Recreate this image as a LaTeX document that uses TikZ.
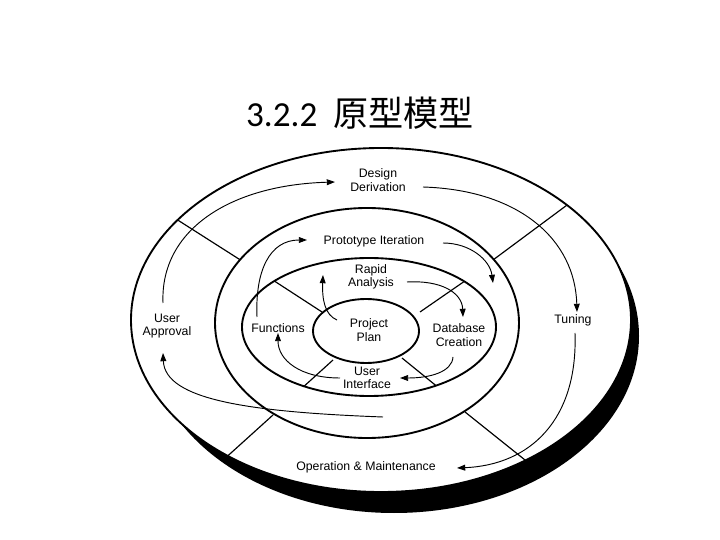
\documentclass[tikz,border=0pt]{standalone}
\usepackage{fontspec}
\setmainfont{Liberation Sans}
\newfontfamily\titlefont{Carlito}
\newfontfamily\cjk{Noto Sans CJK SC}
\usetikzlibrary{arrows.meta}
\begin{document}
\begin{tikzpicture}[x=0.03cm,y=-0.03cm,
  lbl/.style={font=\fontsize{10.5}{11.5}\selectfont,align=center,inner sep=1pt},
  ring/.style={line width=1.6pt},
  div/.style={line width=1pt},
  arr/.style={line width=0.8pt,-{Triangle[length=7pt,width=5pt]}}]
\useasboundingbox (0,0) rectangle (720,540);
\fill[white] (0,0) rectangle (720,540);
\node[font=\fontsize{30}{34}\selectfont] (title) at (360,113) {\titlefont 3.2.2\ \ \cjk 原型模型};
% shadow
\fill[black] (394,336) ellipse [x radius=245, y radius=177];
\fill[white] (381,320) ellipse [x radius=250, y radius=172];
% outer dividers
\begin{scope}
\clip (381,320) ellipse [x radius=250, y radius=172];
\draw[div] (140,196) -- (242,261);
\draw[div] (590,188) -- (493,260);
\draw[div] (190,490) -- (273,415);
\draw[div] (560,488) -- (465,412);
\end{scope}
\fill[white] (367,323) ellipse [x radius=152, y radius=115];
\begin{scope}
\clip (369,327) ellipse [x radius=127, y radius=69];
\draw[div] (262,273) -- (322,312);
\draw[div] (475,274) -- (420,312);
\draw[div] (290,399) -- (333,360);
\draw[div] (450,397) -- (402,358);
\end{scope}
\fill[white] (366,331) ellipse [x radius=53, y radius=32];
% rings
\draw[ring] (381,320) ellipse [x radius=250, y radius=172];
\draw[ring] (367,323) ellipse [x radius=152, y radius=115];
\draw[ring] (369,327) ellipse [x radius=127, y radius=69];
\draw[ring] (366,331) ellipse [x radius=53, y radius=32];
% labels
\node[lbl] (dd) at (378,180) {Design\\Derivation};
\node[lbl] (pi) at (374,241) {Prototype Iteration};
\node[lbl] (ra) at (371,277) {Rapid\\Analysis};
\node[lbl] (ua) at (167,326) {User\\Approval};
\node[lbl] (fn) at (278,328) {Functions};
\node[lbl] (pp) at (369,330) {Project\\Plan};
\node[lbl] (dc) at (459,335) {Database\\Creation};
\node[lbl] (tu) at (573,320) {Tuning};
\node[lbl] (ui) at (367,378) {User\\Interface};
\node[lbl] (om) at (366,467) {Operation \& Maintenance};
% arrows
\draw[arr] (163,303) .. controls (160,230) and (230,185) .. (335,182);
\draw[arr] (423,187) .. controls (520,190) and (575,240) .. (577,312);
\draw[arr] (575,333) .. controls (578,420) and (530,465) .. (457,468);
\draw[arr] (383,417) .. controls (250,412) and (165,400) .. (163,353);
\draw[arr] (257,317) .. controls (255,270) and (270,240) .. (307,240);
\draw[arr] (443,243) .. controls (470,243) and (490,260) .. (493,283);
\draw[arr] (407,282) .. controls (440,280) and (462,292) .. (463,317);
\draw[arr] (453,357) .. controls (452,372) and (430,378) .. (400,378);
\draw[arr] (340,378) .. controls (300,378) and (278,360) .. (278,333);
\draw[arr] (337,320) .. controls (325,315) and (322,300) .. (323,275);
\end{tikzpicture}
\end{document}
